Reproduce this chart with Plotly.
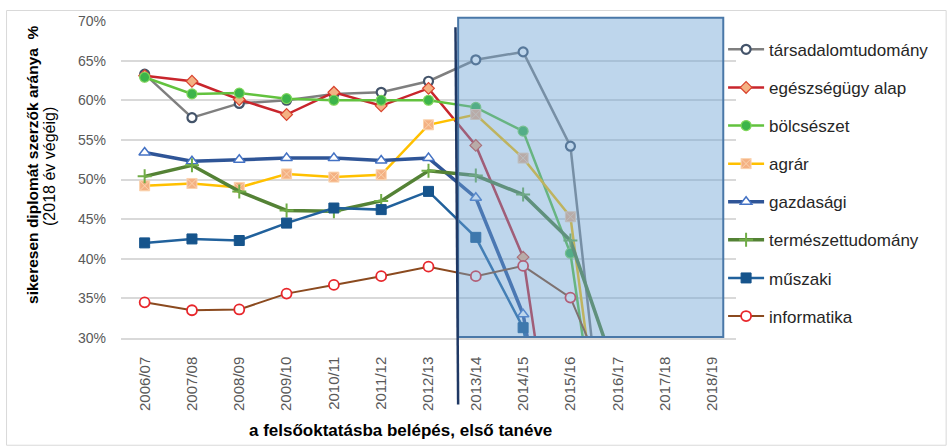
import plotly.graph_objects as go

categories = ["2006/07", "2007/08", "2008/09", "2009/10", "2010/11", "2011/12", "2012/13",
              "2013/14", "2014/15", "2015/16", "2016/17", "2017/18", "2018/19"]

tarsadalomtudomany = [63.3, 57.8, 59.6, 60.0, 60.8, 61.0, 62.4, 65.1, 66.1, 54.2, 0, 0, 0]
egeszsegugy_alap = [63.1, 62.4, 60.1, 58.2, 61.0, 59.3, 61.5, 54.3, 40.2, 0, 0, 0, 0]
bolcseszet = [62.9, 60.8, 60.9, 60.2, 60.0, 60.0, 60.0, 59.1, 56.1, 40.7, 0, 0, 0]
agrar = [49.2, 49.5, 49.0, 50.7, 50.3, 50.6, 56.9, 58.2, 52.7, 45.3, 0, 0, 0]
gazdasagi = [53.4, 52.3, 52.5, 52.7, 52.7, 52.4, 52.7, 47.7, 33.0, 0, 0, 0, 0]
termeszettudomany = [50.4, 51.8, 48.5, 46.1, 46.0, 47.3, 51.1, 50.5, 48.1, 42.3, 25.0, 0, 0]
muszaki = [42.0, 42.5, 42.3, 44.5, 46.4, 46.2, 48.5, 42.7, 31.3, 0, 0, 0, 0]
informatika = [34.5, 33.5, 33.6, 35.6, 36.7, 37.8, 39.0, 37.8, 39.1, 35.1, 21.0, 0, 0]

series = [
    ("társadalomtudomány", tarsadalomtudomany,
     dict(color="#7f7f7f", width=2.5),
     dict(symbol="circle", size=9, color="white", line=dict(color="#44546a", width=2.2))),
    ("egészségügy alap", egeszsegugy_alap,
     dict(color="#c8252c", width=2.5),
     dict(symbol="diamond", size=9, color="#f4b183", line=dict(color="#d9442f", width=1.2))),
    ("bölcsészet", bolcseszet,
     dict(color="#62c23e", width=2.5),
     dict(symbol="circle", size=10, color="#3cb44a", line=dict(color="#7fd65a", width=1.2))),
    ("agrár", agrar,
     dict(color="#ffc000", width=2.5),
     dict(symbol="square-x", size=10, color="#f4b183", line=dict(color="#fbd3ae", width=1))),
    ("gazdasági", gazdasagi,
     dict(color="#2f5597", width=3.5),
     dict(symbol="triangle-up", size=10, color="white", line=dict(color="#4472c4", width=1.5))),
    ("természettudomány", termeszettudomany,
     dict(color="#548235", width=3.5),
     dict(symbol="cross-thin", size=10, color="#70ad47", line=dict(color="#70ad47", width=2))),
    ("műszaki", muszaki,
     dict(color="#21619c", width=2.5),
     dict(symbol="square", size=10, color="#16548c", line=dict(color="#16548c", width=1))),
    ("informatika", informatika,
     dict(color="#8b4a1f", width=2),
     dict(symbol="circle", size=10, color="white", line=dict(color="#e8262b", width=1.8))),
]

fig = go.Figure()
for i, (name, vals, ln, mk) in enumerate(series):
    fig.add_trace(go.Scatter(
        x=categories, y=vals, name=name, mode="lines+markers",
        line=ln, marker=mk, legendgroup=f"g{i}"))

FONT = "Liberation Sans, Arial, sans-serif"

fig.update_layout(
    width=948, height=447,
    margin=dict(l=121.4, r=212, t=20.5, b=109.3),
    paper_bgcolor="white", plot_bgcolor="white",
    font=dict(family=FONT, color="#262626"),
    showlegend=True,
    legend=dict(x=0.979, xanchor="left", y=0.966, yanchor="top",
                font=dict(size=17, color="#262626"),
                itemwidth=36, tracegroupgap=13, bgcolor="rgba(0,0,0,0)"),
    xaxis=dict(type="category", categoryorder="array", categoryarray=categories,
               showgrid=False, showline=True, linecolor="#d9d9d9", linewidth=1.5,
               tickangle=-90, tickfont=dict(size=15, color="#595959"),
               ticks="", ticklabelstandoff=11, range=[-0.5, 12.5], fixedrange=True),
    yaxis=dict(range=[30, 70], dtick=5, ticksuffix="%", showgrid=True,
               gridcolor="#d9d9d9", gridwidth=1.5, zeroline=False,
               tickfont=dict(size=14, color="#595959"), ticklabelstandoff=14),
)

# shaded region (semi-transparent, above lines)
fig.add_shape(type="rect", xref="paper", yref="paper",
              x0=0.5482, x1=0.9793, y0=0.003, y1=1.0101,
              fillcolor="rgb(111,164,213)", opacity=0.45, line=dict(width=0),
              layer="above")
fig.add_shape(type="rect", xref="paper", yref="paper",
              x0=0.5482, x1=0.9793, y0=0.003, y1=1.0101,
              fillcolor="rgba(0,0,0,0)", line=dict(color="#4a78a8", width=2),
              layer="above")
# vertical divider line
fig.add_shape(type="line", xref="paper", yref="paper",
              x0=0.5439, x1=0.5482, y0=0.980, y1=-0.21,
              line=dict(color="#1f3864", width=2.5), layer="above")
# outer chart border
fig.add_shape(type="rect", xref="paper", yref="paper",
              x0=-0.1861, x1=1.3417, y0=-0.3383, y1=1.0331,
              fillcolor="rgba(0,0,0,0)", line=dict(color="#d9d9d9", width=1),
              layer="below")

# axis titles
fig.add_annotation(xref="paper", yref="paper", x=(33 - 121.4) / 614.6, y=(337.7 - 165) / 317.2,
                   text="<b>sikeresen diplomát szerzők aránya  %</b>", textangle=-90,
                   showarrow=False, font=dict(size=15.5, color="black", family=FONT),
                   xanchor="center", yanchor="middle")
fig.add_annotation(xref="paper", yref="paper", x=(50 - 121.4) / 614.6, y=(337.7 - 166) / 317.2,
                   text="(2018 év végéig)", textangle=-90,
                   showarrow=False, font=dict(size=16, color="black", family=FONT),
                   xanchor="center", yanchor="middle")
fig.add_annotation(xref="paper", yref="paper", x=(401 - 121.4) / 614.6, y=(337.7 - 430) / 317.2,
                   text="<b>a felsőoktatásba belépés, első tanéve</b>",
                   showarrow=False, font=dict(size=17, color="black", family=FONT),
                   xanchor="center", yanchor="middle")

fig.write_html("out.html", config={"displayModeBar": False},
               post_script="document.body.style.margin='0';document.body.style.overflow='hidden';")
